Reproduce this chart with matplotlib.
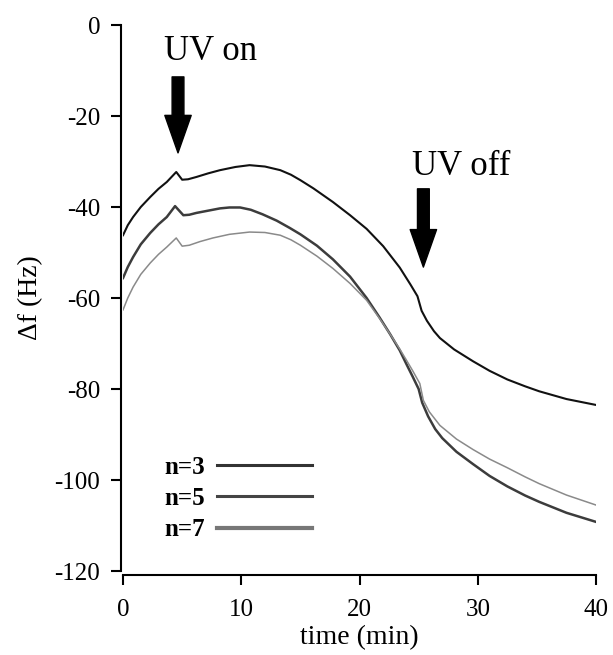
import matplotlib
matplotlib.use('Agg')
import matplotlib.pyplot as plt

plt.rcParams['font.family'] = ['Liberation Serif', 'DejaVu Serif']
plt.rcParams['axes.unicode_minus'] = False

# readings from the figure: time (min) and frequency shift (Hz)
t_n3 = [0, 0.4, 0.85, 1.5, 2.3, 3.0, 3.7, 4.5, 5.0, 5.5, 6.2, 7.2, 8.2, 9.5,
        10.7, 12.0, 13.3, 14.2, 15.0, 16.1, 17.75, 19.2, 20.6, 22.0, 23.4,
        24.3, 24.9, 25.25, 25.7, 26.3, 26.8, 28.0, 29.6, 31.0, 32.5, 34.0,
        35.2, 37.5, 40]
df_n3 = [-46.2, -44.0, -42.2, -40.0, -37.8, -36.0, -34.5, -32.3, -34.0, -33.9,
         -33.4, -32.6, -31.9, -31.2, -30.8, -31.1, -31.9, -32.9, -34.1, -35.9,
         -38.9, -41.8, -44.8, -48.6, -53.3, -57.0, -59.6, -62.8, -65.0, -67.3,
         -68.8, -71.3, -73.9, -76.0, -77.9, -79.4, -80.5, -82.2, -83.5]

t_n5 = [0, 0.4, 0.85, 1.5, 2.3, 3.0, 3.7, 4.4, 5.1, 5.6, 6.2, 7.2, 8.2, 9.0,
        9.9, 10.8, 11.8, 13.0, 14.1, 15.0, 16.4, 17.75, 19.2, 20.6, 21.7,
        22.6, 23.4, 24.0, 24.5, 25.0, 25.3, 25.8, 26.4, 27.0, 28.2, 29.6,
        31.0, 32.5, 34.0, 35.2, 37.5, 40]
df_n5 = [-55.6, -53.2, -51.0, -48.2, -45.7, -43.8, -42.2, -39.8, -41.8, -41.7,
         -41.3, -40.8, -40.3, -40.1, -40.1, -40.6, -41.6, -43.0, -44.6, -46.0,
         -48.5, -51.5, -55.3, -60.0, -64.3, -68.0, -71.5, -74.7, -77.3, -80.0,
         -83.0, -86.0, -88.8, -90.8, -93.8, -96.5, -99.1, -101.4, -103.4,
         -104.8, -107.2, -109.2]

t_n7 = [0, 0.4, 0.85, 1.5, 2.3, 3.0, 3.7, 4.5, 5.0, 5.6, 6.5, 7.6, 9.0, 10.7,
        12.0, 13.3, 14.2, 15.0, 16.4, 17.75, 19.2, 20.6, 21.7, 22.6, 23.4,
        24.0, 24.5, 25.1, 25.4, 25.9, 26.8, 28.2, 29.6, 31.0, 32.5, 34.0,
        35.2, 37.5, 40]
df_n7 = [-62.6, -60.0, -57.6, -54.8, -52.3, -50.4, -48.8, -46.8, -48.6, -48.4,
         -47.6, -46.8, -46.0, -45.5, -45.6, -46.2, -47.2, -48.4, -50.8, -53.5,
         -56.8, -60.5, -64.5, -68.0, -71.2, -73.8, -76.0, -78.8, -82.5, -85.0,
         -88.0, -91.0, -93.3, -95.4, -97.3, -99.3, -100.8, -103.3, -105.5]

labels = ['n=3', 'n=5', 'n=7']
xticks = [0, 10, 20, 30, 40]
yticks = [0, -20, -40, -60, -80, -100, -120]
uv_on, uv_off = 4.65, 25.4

fig = plt.figure(figsize=(6.13, 6.55), dpi=100)
ax = fig.add_axes([0.2007, 0.1282, 0.7716, 0.8336])

ax.plot(t_n3, df_n3, color='#111111', lw=1.5, label=labels[0])
ax.plot(t_n5, df_n5, color='#3c3c3c', lw=1.8, label=labels[1])
ax.plot(t_n7, df_n7, color='#8a8a8a', lw=1.1, label=labels[2])

ax.set_xlim(0, 40)
ax.set_ylim(-120, 0)
ax.set_xticks(xticks)
ax.set_yticks(yticks)
ax.spines['top'].set_visible(False)
ax.spines['right'].set_visible(False)
ax.spines['bottom'].set_position(('outward', 3))
ax.spines['left'].set_position(('outward', 1.5))
for s in ['bottom', 'left']:
    ax.spines[s].set_linewidth(1.5)
ax.tick_params(direction='out', length=7, width=1.5, labelsize=18)
ax.tick_params(axis='x', pad=10)
ax.tick_params(axis='y', pad=8)

ax.set_xlabel('time (min)', fontsize=20, labelpad=3)
ax.set_ylabel('Δf (Hz)', fontsize=20, labelpad=8)

# UV arrows
arrow = dict(facecolor='black', edgecolor='black', width=8.5, headwidth=19,
             headlength=27, shrink=0)
ax.annotate('', xy=(uv_on, -28.1), xytext=(uv_on, -11.4), arrowprops=arrow)
ax.annotate('', xy=(uv_off, -53.2), xytext=(uv_off, -36.0), arrowprops=arrow)
ax.text(3.5, -7.7, 'UV on', fontsize=25, ha='left', va='baseline')
ax.text(24.4, -33.0, 'UV off', fontsize=25, ha='left', va='baseline')

leg = ax.legend(loc='upper left', bbox_to_anchor=(0.087, 0.211), frameon=False,
                markerfirst=False, handlelength=3.8, handletextpad=0.5,
                labelspacing=0.33, borderpad=0, borderaxespad=0,
                prop={'weight': 'bold', 'size': 18})
for h, c, w in zip(leg.get_lines(), ['#333333', '#444444', '#777777'], [2.2, 2.2, 3.0]):
    h.set_color(c)
    h.set_linewidth(w)

fig.savefig('out.png', dpi=100)
